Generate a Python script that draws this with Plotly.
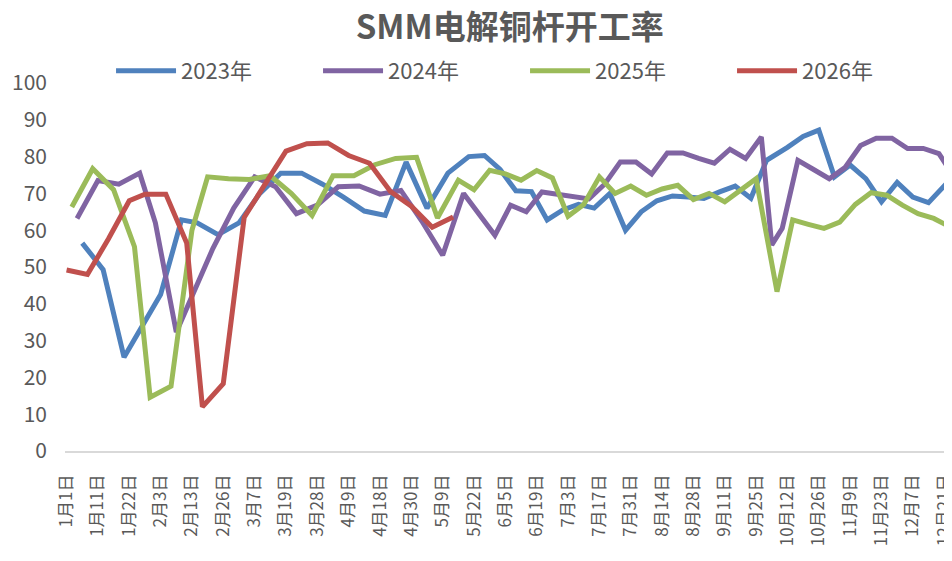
import pandas as pd
import plotly.graph_objects as go

# x-axis labels as printed (every 6th category of the merged date list)
TICK_LABELS = [
    "1月1日", "1月11日", "1月22日", "2月3日", "2月13日", "2月26日", "3月7日",
    "3月19日", "3月28日", "4月9日", "4月18日", "4月30日", "5月9日", "5月22日",
    "6月5日", "6月19日", "7月3日", "7月17日", "7月31日", "8月14日", "8月28日",
    "9月11日", "9月25日", "10月12日", "10月26日", "11月9日", "11月23日",
    "12月7日", "12月21日",
]


def thursdays(start, end, skip=(), moved=None):
    # weekly report dates (Thursdays) as "MM-DD"; holiday weeks skipped/moved
    moved = moved or {}
    days = pd.date_range(start, end, freq="W-THU").strftime("%m-%d")
    return [moved.get(d, d) for d in days if d not in skip]


DATES_2023 = thursdays("2023-01-05", "2023-12-28", skip=("01-26", "10-05"), moved={"02-02": "02-03"})
DATES_2024 = thursdays("2024-01-04", "2024-12-26", skip=("02-15",))
DATES_2025 = thursdays("2025-01-02", "2025-12-25", skip=("10-02",))
DATES_2026 = thursdays("2026-01-01", "2026-05-14")

RATE_2023 = [
    56.5, 49.3, 25.5, 42.5, 62.8, 62.0, 58.8, 62.0, 70.0, 75.5, 75.5, 72.5,
    69.0, 65.2, 64.0, 78.5, 66.0, 75.5, 80.0, 80.3, 76.5, 70.7, 70.5, 62.8,
    65.5, 67.0, 66.0, 70.0, 60.0, 65.0, 68.0, 69.3, 69.0, 68.6, 70.4, 72.0,
    68.7, 79.0, 82.5, 85.5, 87.2, 74.5, 77.7, 74.0, 67.7, 73.0, 69.0, 67.5,
    72.0, 66.0,
]
RATE_2024 = [
    63.2, 73.5, 72.5, 75.5, 62.0, 32.3, 55.0, 66.0, 74.5, 71.8, 64.5, 66.8,
    71.8, 72.0, 69.8, 70.8, 62.5, 53.2, 70.0, 64.5, 58.6, 66.8, 65.0, 70.4,
    69.7, 69.0, 68.5, 72.5, 78.5, 78.5, 75.3, 81.0, 81.0, 79.5, 78.2, 82.0,
    79.5, 85.3, 56.0, 60.5, 79.0, 76.5, 74.0, 77.0, 83.0, 85.0, 85.0, 82.2,
    82.2, 80.8, 74.3,
]
RATE_2025 = [
    66.3, 76.7, 71.0, 55.5, 14.6, 17.6, 60.0, 74.5, 74.0, 73.8, 74.8, 70.0,
    64.0, 74.8, 74.8, 77.8, 79.5, 79.8, 63.3, 73.6, 71.0, 76.3, 75.3, 73.6,
    76.2, 74.2, 63.8, 67.0, 74.5, 70.0, 72.0, 69.5, 71.2, 72.2, 68.3, 70.0,
    67.7, 71.0, 74.0, 43.3, 62.8, 61.6, 60.5, 62.2, 67.0, 70.2, 69.5, 66.8,
    64.5, 63.2, 61.0,
]
RATE_2026 = [
    49.2, 48.0, 57.6, 68.0, 69.8, 69.8, 56.5, 12.0, 18.3, 63.5, 72.5, 81.5,
    83.5, 83.7, 80.3, 78.2, 70.5, 66.5, 60.8, 63.6,
]

SERIES = [
    ("2023年", DATES_2023, RATE_2023, "#4F81BD"),
    ("2024年", DATES_2024, RATE_2024, "#8064A2"),
    ("2025年", DATES_2025, RATE_2025, "#9BBB59"),
    ("2026年", DATES_2026, RATE_2026, "#C0504D"),
]

# merged month-day categories of all years, in calendar order
CATEGORIES = sorted(set(DATES_2023 + DATES_2024 + DATES_2025 + DATES_2026))


def label_key(label):
    m, d = label.replace("日", "").split("月")
    return f"{int(m):02d}-{int(d):02d}"


FONT = "Noto Sans CJK SC"
GREY = "#595959"

fig = go.Figure()
for name, dates, rates, color in SERIES:
    fig.add_trace(go.Scatter(
        name=name, x=dates, y=rates, mode="lines",
        line=dict(color=color, width=5),
    ))

# the page body adds an 8px offset, so the plot margins are shifted to compensate
fig.update_layout(
    width=952, height=561,
    margin=dict(l=57, r=8, t=75, b=118),
    plot_bgcolor="white", paper_bgcolor="white",
    font=dict(family=FONT, color=GREY),
    title=dict(
        text="<b>SMM电解铜杆开工率</b>",
        font=dict(size=33, color=GREY, family=FONT),
        x=0.527, xref="container", xanchor="center",
        y=0.966, yref="container", yanchor="middle",
    ),
    legend=dict(
        orientation="h", xref="paper", yref="paper",
        x=0.0519, y=1.033, xanchor="left", yanchor="middle",
        entrywidth=132, entrywidthmode="pixels", itemwidth=60,
        font=dict(size=22, color=GREY, family=FONT),
        bgcolor="rgba(0,0,0,0)",
    ),
    showlegend=True,
)
fig.update_xaxes(
    type="category", categoryorder="array", categoryarray=CATEGORIES,
    range=[-0.3, 169.5], automargin=False,
    tickmode="array", tickvals=[label_key(t) for t in TICK_LABELS], ticktext=TICK_LABELS,
    tickangle=-90, tickfont=dict(size=17, color=GREY),
    ticklabelstandoff=15,
    showgrid=False, zeroline=False,
    showline=True, linecolor="#D9D9D9", linewidth=1.5,
)
fig.update_yaxes(
    range=[0, 100], dtick=10, automargin=False,
    tickfont=dict(size=21, color=GREY),
    ticklabelstandoff=17,
    showgrid=False, zeroline=False, showline=False,
)

fig.write_html("out.html")
